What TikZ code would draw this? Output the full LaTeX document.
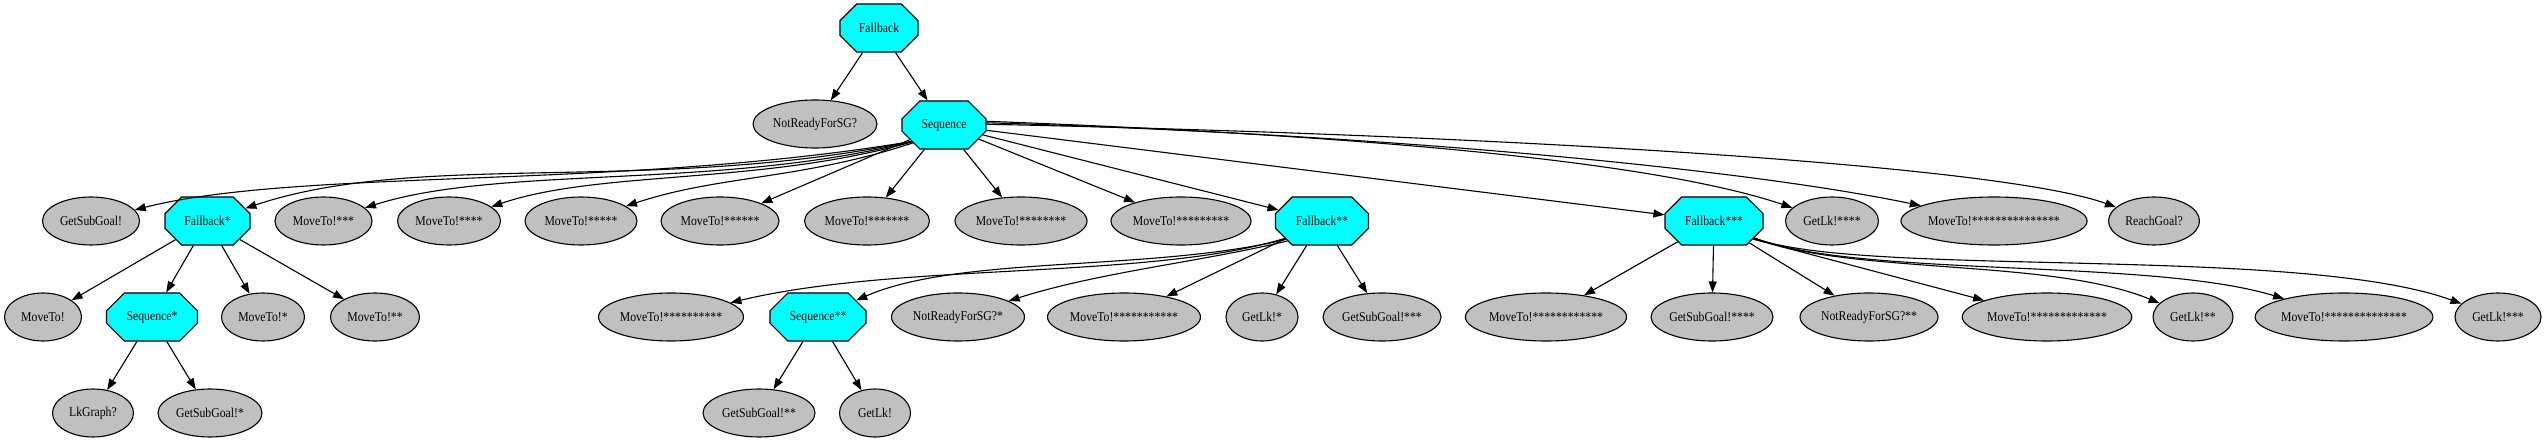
\documentclass[tikz,border=0pt]{standalone}
\usepackage{fontspec}
\setmainfont[FakeStretch=0.87]{Liberation Serif}
\usetikzlibrary{shapes.geometric,shapes.misc,arrows.meta}
\definecolor{leafgray}{RGB}{192,192,192}
\definecolor{aqua}{RGB}{0,255,255}
\tikzset{
  leaf/.style={ellipse, draw=black, fill=leafgray, line width=1.1pt, minimum height=48pt, inner sep=0pt, font=\fontsize{13.5}{16}\selectfont},
  ctrl/.style={chamfered rectangle, chamfered rectangle xsep=25pt, chamfered rectangle ysep=12pt, draw=black, fill=aqua, line width=1.1pt, minimum height=48pt, inner sep=0pt, font=\fontsize{13.5}{16}\selectfont},
  conn/.style={-{Triangle[length=11pt,width=8pt]}, line width=1.1pt}
}
\begin{document}
\begin{tikzpicture}[x=1pt,y=-1pt]
\useasboundingbox (0,0) rectangle (2547,443);
% row 0 and 1
\node[ctrl, minimum width=78pt] (F0) at (879,28) {Fallback};
\node[leaf, minimum width=124pt] (N0) at (815,124) {NotReadyForSG?};
\node[ctrl, minimum width=84pt] (S0) at (944,125) {Sequence};
% row 2
\node[leaf, minimum width=97pt] (g1) at (91,221) {GetSubGoal!};
\node[ctrl, minimum width=85pt] (F1) at (207.5,221) {Fallback*};
\node[leaf, minimum width=97pt] (m3) at (323.5,221) {MoveTo!***};
\node[leaf, minimum width=103pt] (m4) at (449,221) {MoveTo!****};
\node[leaf, minimum width=112pt] (m5) at (581,221) {MoveTo!*****};
\node[leaf, minimum width=118pt] (m6) at (720,221) {MoveTo!******};
\node[leaf, minimum width=125pt] (m7) at (867,221) {MoveTo!*******};
\node[leaf, minimum width=132pt] (m8) at (1021,221) {MoveTo!********};
\node[leaf, minimum width=140pt] (m9) at (1181,221) {MoveTo!*********};
\node[ctrl, minimum width=93pt] (F2) at (1322,221) {Fallback**};
\node[ctrl, minimum width=98pt] (F3) at (1714,221) {Fallback***};
\node[leaf, minimum width=93pt] (k4) at (1832,221) {GetLk!****};
\node[leaf, minimum width=182pt] (m15) at (1994,221) {MoveTo!***************};
\node[leaf, minimum width=91pt] (rg) at (2154,221) {ReachGoal?};
% row 3
\node[leaf, minimum width=77pt] (m0) at (43,317) {MoveTo!};
\node[ctrl, minimum width=91pt] (S1) at (152,317) {Sequence*};
\node[leaf, minimum width=83pt] (m1) at (263,317) {MoveTo!*};
\node[leaf, minimum width=89pt] (m2) at (375,317) {MoveTo!**};
\node[leaf, minimum width=145pt] (m10) at (671,317) {MoveTo!**********};
\node[ctrl, minimum width=96pt] (S2) at (818,317) {Sequence**};
\node[leaf, minimum width=133pt] (n1) at (958,317) {NotReadyForSG?*};
\node[leaf, minimum width=153pt] (m11) at (1124,317) {MoveTo!***********};
\node[leaf, minimum width=72pt] (k1) at (1262,317) {GetLk!*};
\node[leaf, minimum width=118pt] (g3) at (1382,317) {GetSubGoal!***};
\node[leaf, minimum width=158pt] (m12) at (1546,317) {MoveTo!************};
\node[leaf, minimum width=122pt] (g4) at (1712,317) {GetSubGoal!****};
\node[leaf, minimum width=138pt] (n2) at (1869,317) {NotReadyForSG?**};
\node[leaf, minimum width=168pt] (m13) at (2047,317) {MoveTo!*************};
\node[leaf, minimum width=80pt] (k2) at (2193,317) {GetLk!**};
\node[leaf, minimum width=175pt] (m14) at (2344,317) {MoveTo!**************};
\node[leaf, minimum width=86pt] (k3) at (2498,317) {GetLk!***};
% row 4
\node[leaf, minimum width=81pt] (lk) at (93,413) {LkGraph?};
\node[leaf, minimum width=104pt] (g1s) at (210,413) {GetSubGoal!*};
\node[leaf, minimum width=112pt] (g2) at (759,413) {GetSubGoal!**};
\node[leaf, minimum width=71pt] (k0) at (875,413) {GetLk!};
% edges from root
\draw[conn] (F0) -- (N0);
\draw[conn] (F0) -- (S0);
% Sequence children
\draw[conn] (S0.207) .. controls (620,190) and (300,168) .. (g1);
\draw[conn] (S0.207) .. controls (650,195) and (420,150) .. (F1);
\draw[conn] (S0.207) .. controls (720,190) and (500,165) .. (m3);
\draw[conn] (S0.208) .. controls (760,185) and (600,170) .. (m4);
\draw[conn] (S0.210) .. controls (800,180) and (720,175) .. (m5);
\draw[conn] (S0) -- (m6);
\draw[conn] (S0) -- (m7);
\draw[conn] (S0) -- (m8);
\draw[conn] (S0) -- (m9);
\draw[conn] (S0) -- (F2);
\draw[conn] (S0) -- (F3);
\draw[conn] (S0.5) .. controls (1350,135) and (1650,160) .. (k4);
\draw[conn] (S0.3) .. controls (1400,135) and (1750,170) .. (m15);
\draw[conn] (S0.1) .. controls (1500,135) and (2000,165) .. (rg);
% Fallback* children
\draw[conn] (F1) -- (m0);
\draw[conn] (F1) -- (S1);
\draw[conn] (F1) -- (m1);
\draw[conn] (F1) -- (m2);
\draw[conn] (S1) -- (lk);
\draw[conn] (S1) -- (g1s);
% Fallback** children
\draw[conn] (F2.205) .. controls (1150,280) and (900,262) .. (m10);
\draw[conn] (F2.207) .. controls (1150,272) and (960,255) .. (S2);
\draw[conn] (F2.210) .. controls (1200,262) and (1100,272) .. (n1);
\draw[conn] (F2) -- (m11);
\draw[conn] (F2) -- (k1);
\draw[conn] (F2) -- (g3);
\draw[conn] (S2) -- (g2);
\draw[conn] (S2) -- (k0);
% Fallback*** children
\draw[conn] (F3) -- (m12);
\draw[conn] (F3) -- (g4);
\draw[conn] (F3) -- (n2);
\draw[conn] (F3.335) -- (m13);
\draw[conn] (F3.337) .. controls (1850,275) and (2050,258) .. (k2);
\draw[conn] (F3.337) .. controls (1860,278) and (2150,258) .. (m14);
\draw[conn] (F3.337) .. controls (1860,278) and (2300,245) .. (k3);
\end{tikzpicture}
\end{document}
